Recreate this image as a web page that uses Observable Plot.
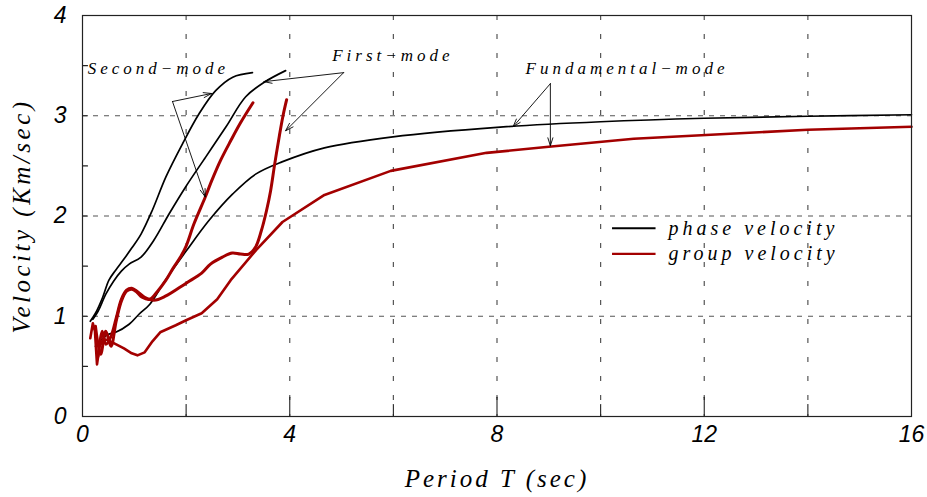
<!DOCTYPE html>
<html><head><meta charset="utf-8">
<script src="https://cdn.jsdelivr.net/npm/d3@7"></script>
<script src="https://cdn.jsdelivr.net/npm/@observablehq/plot@0.6"></script>
<style>
html,body{margin:0;padding:0;background:#fff;}
</style>
</head><body>
<div id="chart"></div>
<script>
// ---- data (period T in sec, velocity in km/sec) ----
// phase velocity, second mode
const T_phase2 = [0.15,0.25,0.39,0.51,0.64,0.8,0.95,1.13,1.35,1.61,1.93,2.25,2.57,2.9,3.28];
const V_phase2 = [0.95,1.03,1.19,1.36,1.46,1.57,1.68,1.82,2.06,2.39,2.72,3.02,3.25,3.385,3.43];
// phase velocity, first mode
const T_phase1 = [0.2,0.3,0.45,0.6,0.75,0.9,1.13,1.38,1.67,1.99,2.38,2.77,3.15,3.51,3.92];
const V_phase1 = [0.97,1.05,1.22,1.35,1.45,1.52,1.59,1.76,2.02,2.29,2.59,2.89,3.19,3.335,3.45];
// phase velocity, fundamental mode
const T_phase0 = [0.25,0.39,0.5,0.64,0.9,1.09,1.3,1.6,2.0,2.44,2.9,3.35,3.85,4.67,5.99,8.0,10.0,12.0,14.0,16.0];
const V_phase0 = [0.7,0.78,0.82,0.84,0.92,1.02,1.12,1.36,1.65,1.955,2.22,2.42,2.54,2.68,2.79,2.885,2.94,2.975,2.995,3.01];
// group velocity, fundamental mode
const T_group0 = [0.15,0.2,0.24,0.28,0.33,0.4,0.5,0.65,0.8,0.95,1.06,1.2,1.35,1.5,1.8,2.0,2.3,2.6,2.86,3.35,3.86,4.67,5.95,7.8,9.0,10.64,12.5,14.0,16.0];
const V_group0 = [0.78,0.93,0.85,0.52,0.7,0.77,0.76,0.72,0.68,0.63,0.61,0.64,0.75,0.84,0.91,0.96,1.03,1.17,1.36,1.66,1.94,2.21,2.45,2.63,2.69,2.77,2.82,2.86,2.89];
// group velocity, first mode
const T_group1 = [0.3,0.38,0.45,0.55,0.65,0.75,0.85,0.95,1.05,1.2,1.38,1.6,2.0,2.3,2.47,2.7,2.89,3.05,3.21,3.34,3.45,3.55,3.63,3.71,3.8,3.87,3.94];
const V_group1 = [0.6,0.85,0.72,0.8,0.98,1.17,1.26,1.28,1.25,1.19,1.16,1.2,1.33,1.43,1.52,1.59,1.63,1.62,1.62,1.69,1.85,2.05,2.25,2.52,2.8,3.0,3.16];
// group velocity, second mode
const T_group2 = [0.25,0.35,0.45,0.55,0.65,0.75,0.85,0.95,1.05,1.15,1.3,1.45,1.61,1.75,1.89,2.0,2.15,2.37,2.5,2.66,2.86,3.05,3.29];
const V_group2 = [0.9,0.62,0.85,0.7,0.95,1.15,1.25,1.27,1.24,1.19,1.17,1.25,1.36,1.48,1.59,1.7,1.92,2.19,2.36,2.55,2.75,2.93,3.13];

// axes
const xTicks = [0,4,8,12,16];
const xMinor = [2,4,6,8,10,12,14];
const yTicks = [0,1,2,3,4];
const yMinor = [0.5,1,1.5,2,2.5,3,3.5];
const xGrid = [2,4,6,8,10,12,14];
const yGrid = [1,2,3];

// annotations
const labelNames = ["Second\u2212mode","First\u2212mode","Fundamental\u2212mode"];
const labelT = [0.1, 4.82, 8.55];
const labelV = [3.47, 3.60, 3.47];
const arrowFromT = [1.737, 1.737, 5.04, 5.04, 9.03, 9.03];
const arrowFromV = [3.142, 3.142, 3.43, 3.43, 3.32, 3.32];
const arrowToT   = [2.49, 2.37, 3.50, 3.92, 8.31, 9.03];
const arrowToV   = [3.222, 2.19, 3.34, 2.85, 2.89, 2.70];

// legend
const legendNames = ["phase velocity","group velocity"];
const legendColors = ["#000000","#a30000"];
const legendV = [1.878, 1.623];

const rows = (T,V) => T.map((t,i)=>({T:t, V:V[i]}));
const arrows = arrowToT.map((t,i)=>({x1:arrowFromT[i], y1:arrowFromV[i], x2:t, y2:arrowToV[i]}));
const labels = labelNames.map((s,i)=>({s, T:labelT[i], V:labelV[i]}));
const legend = legendNames.map((s,i)=>({s, c:legendColors[i], V:legendV[i]}));

const RED = "#a30000";
const serif = "'Liberation Serif', 'DejaVu Serif', serif";
const sans = "'Liberation Sans', 'DejaVu Sans', sans-serif";
const tickShape = {draw(context, l) { context.moveTo(0, 0); context.lineTo(0, -l); }};

const chart = Plot.plot({
  width: 927, height: 497,
  marginLeft: 82, marginRight: 16, marginTop: 15, marginBottom: 81,
  x: {domain:[0,16]},
  y: {domain:[0,4]},
  style: {fontFamily: serif, fontStyle: "italic", fontSize: "22px", color:"#000", background:"#fff", overflow:"visible"},
  marks: [
    Plot.ruleX(xGrid, {stroke:"#555", strokeWidth:1.2, strokeDasharray:"5,14"}),
    Plot.ruleY(yGrid, {stroke:"#555", strokeWidth:1.2, strokeDasharray:"5,6"}),
    Plot.axisX({ticks: xTicks, tickSize: 0, tickPadding: 9, fontSize: 23, fontFamily: sans, tickFormat: d3.format("d"), label: null}),
    Plot.axisY({ticks: yTicks, tickSize: 0, tickPadding: 16, fontSize: 23, fontFamily: sans, tickFormat: d3.format("d"), label: null}),
    Plot.axisX({ticks: [], tickSize: 0, fontSize: 25, fontFamily: serif, label: "Period T (sec)", labelAnchor:"center", labelArrow:"none", labelOffset: 70, className:"xlab"}),
    Plot.axisY({ticks: [], tickSize: 0, fontSize: 25, fontFamily: serif, label: "Velocity (Km/sec)", labelAnchor:"center", labelArrow:"none", labelOffset: 70, className:"ylab"}),
    Plot.vector(xMinor, {x: d => d, y: 0, length: d => (d % 4 === 0 ? 8 : 5), rotate: 0, anchor: "start", shape: tickShape, stroke:"#222", strokeWidth:1.1}),
    Plot.vector(yMinor, {x: 0, y: d => d, length: 5, rotate: 90, anchor: "start", shape: tickShape, stroke:"#222", strokeWidth:1.1}),
    Plot.line(rows(T_phase2,V_phase2), {x:"T", y:"V", stroke:"#000", strokeWidth:1.7, curve:"catmull-rom"}),
    Plot.line(rows(T_phase1,V_phase1), {x:"T", y:"V", stroke:"#000", strokeWidth:1.7, curve:"catmull-rom"}),
    Plot.line(rows(T_phase0,V_phase0), {x:"T", y:"V", stroke:"#000", strokeWidth:1.7, curve:"catmull-rom"}),
    Plot.line(rows(T_group0,V_group0), {x:"T", y:"V", stroke:RED, strokeWidth:2.6, curve:"linear"}),
    Plot.line(rows(T_group1,V_group1), {x:"T", y:"V", stroke:RED, strokeWidth:3, curve:"catmull-rom"}),
    Plot.line(rows(T_group2,V_group2), {x:"T", y:"V", stroke:RED, strokeWidth:3, curve:"catmull-rom"}),
    Plot.arrow(arrows, {x1:"x1", y1:"y1", x2:"x2", y2:"y2", stroke:"#000", strokeWidth:0.9, headLength:14, headAngle:35}),
    Plot.text(labels, {x:"T", y:"V", text:"s", textAnchor:"start", lineAnchor:"middle", fontSize:17, fontFamily: serif, fontStyle:"italic", className:"annot"}),
    Plot.link(legend, {x1: 10.22, x2: 11.06, y1:"V", y2:"V", stroke:"c", strokeWidth:2.2}),
    Plot.text(legend, {x: 11.31, y:"V", text:"s", textAnchor:"start", lineAnchor:"middle", fontSize:20, fontFamily: serif, fontStyle:"italic", className:"legtext"}),
    Plot.frame({stroke:"#222", strokeWidth:1.2})
  ]
});
document.getElementById("chart").appendChild(chart);
chart.querySelectorAll(".annot text").forEach(t=>t.setAttribute("letter-spacing","4"));
chart.querySelectorAll(".legtext text").forEach(t=>t.setAttribute("letter-spacing","4"));
chart.querySelectorAll("g[aria-label='x-axis label'] text").forEach(t=>t.setAttribute("letter-spacing","3"));
chart.querySelectorAll("g[aria-label='y-axis label'] text").forEach(t=>t.setAttribute("letter-spacing","3.5"));
</script>
</body></html>
